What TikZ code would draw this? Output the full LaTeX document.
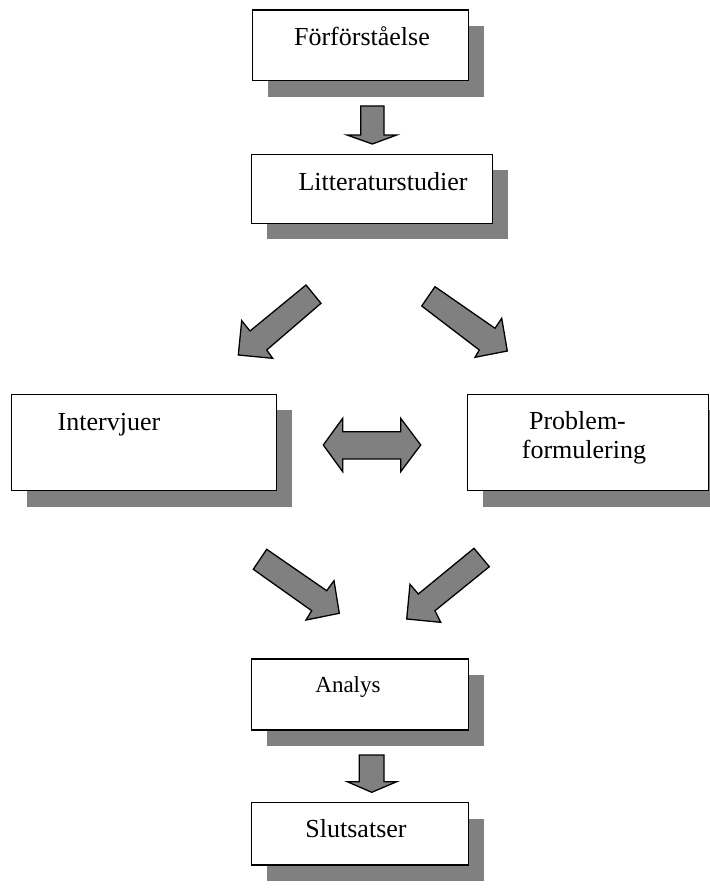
\documentclass[tikz,border=0pt]{standalone}
\usepackage{fontspec}
\setmainfont{Liberation Serif}
\usetikzlibrary{shadows}
\definecolor{shade}{RGB}{128,128,128}
\tikzset{
  box/.style={draw=black, line width=1.4pt, fill=white, inner sep=0pt, outer sep=0pt,
    drop shadow={shadow xshift=15.5pt, shadow yshift=-16pt, fill=shade, opacity=1}},
  lbl/.style={inner sep=0pt, outer sep=0pt, anchor=base, font=\fontsize{26}{29}\selectfont},
  blockarrow/.style={draw=black, line width=1.3pt, fill=shade, line join=miter}
}
\begin{document}
\begin{tikzpicture}[x=1pt, y=-1pt]
\useasboundingbox (0,0) rectangle (709,888);
% boxes
\node[box, minimum width=215.6pt, minimum height=70.7pt] (b1) at (360.5,45.35) {};
\node[box, minimum width=240.6pt, minimum height=69pt] (b2) at (372,188.8) {};
\node[box, minimum width=265pt, minimum height=96.4pt] (b3) at (144.2,442.5) {};
\node[box, minimum width=241pt, minimum height=96.4pt] (b4) at (587.8,442.5) {};
\node[box, minimum width=216.6pt, minimum height=71pt] (b5) at (360,694.5) {};
\node[box, minimum width=216.6pt, minimum height=62.3pt] (b6) at (360,833.85) {};
% texts
\node[lbl] (t1) at (362,46) {Förförståelse};
\node[lbl] (t2) at (383,190) {Litteraturstudier};
\node[lbl] (t3) at (109,430) {Intervjuer};
\node[lbl] (t4a) at (577.5,429.3) {Problem-};
\node[lbl] (t4b) at (584,458.3) {formulering};
\node[lbl, font=\fontsize{23}{27}\selectfont] (t5) at (348,692) {Analys};
\node[lbl] (t6) at (356,837) {Slutsatser};
% down arrows
\draw[blockarrow] (360.7,106) -- (384,106) -- (384,135) -- (396.7,135) -- (372.3,144)
  -- (347,135) -- (360.7,135) -- cycle;
\draw[blockarrow] (359.3,755) -- (384,755) -- (384,781.7) -- (396.7,781.7) -- (371.7,792.3)
  -- (347.3,781.7) -- (359.3,781.7) -- cycle;
% diagonal arrows upper
\draw[blockarrow] (306,285) -- (321,303.3) -- (266.7,350) -- (272.7,358.3) -- (238.3,355)
  -- (241.7,320.7) -- (250,331) -- cycle;
\draw[blockarrow] (435,286.7) -- (495,328.3) -- (501.7,318.3) -- (507.3,351) -- (475,357.3)
  -- (479.3,350) -- (421.7,306) -- cycle;
% diagonal arrows lower
\draw[blockarrow] (266.7,549.3) -- (326.7,590.7) -- (334,580.7) -- (339.3,613.3) -- (306,620)
  -- (311.7,610.7) -- (253.3,569.3) -- cycle;
\draw[blockarrow] (474,548.3) -- (489.3,566.7) -- (435,610.7) -- (440.7,622.3) -- (406.7,619)
  -- (410,584.3) -- (418.3,594) -- cycle;
% double arrow
\draw[blockarrow] (323.3,445) -- (342.7,418.3) -- (342.7,431.7) -- (400.7,431.7) -- (400.7,418.3)
  -- (420.7,445) -- (400.7,471.7) -- (400.7,459) -- (342.7,459) -- (342.7,471.7) -- cycle;
\end{tikzpicture}
\end{document}
